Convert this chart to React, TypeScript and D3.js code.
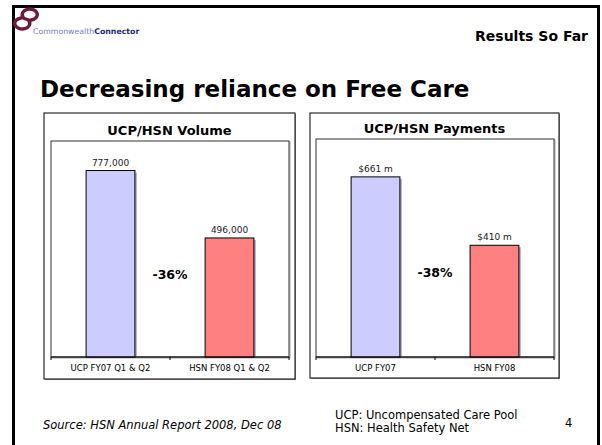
import React from "react";
import * as d3 from "d3";

const volumeCategories = ["UCP FY07 Q1 & Q2", "HSN FY08 Q1 & Q2"];
const volumeValues = [777000, 496000];
const volumeLabels = ["777,000", "496,000"];
const volumeChange = "-36%";

const paymentCategories = ["UCP FY07", "HSN FY08"];
const paymentValues = [661, 410];
const paymentLabels = ["$661 m", "$410 m"];
const paymentChange = "-38%";

const barColors = ["#ccccff", "#ff8080"];
const FONT = "DejaVu Sans, Verdana, sans-serif";

type PanelProps = {
  x0: number; y0: number; x1: number; y1: number;
  px0: number; py0: number; px1: number; py1: number;
  title: string; cats: string[]; vals: number[]; labels: string[];
  yMax: number; change: string; changeY: number; titleY: number;
};

function Panel(p: PanelProps) {
  const x = d3.scaleBand<string>().domain(p.cats).range([p.px0, p.px1]).paddingInner(0.59).paddingOuter(0.295);
  const y = d3.scaleLinear().domain([0, p.yMax]).range([p.py1, p.py0]);
  const step = x.step();
  const ticks = [p.px0, p.px0 + step, p.px1];
  return (
    <g>
      <rect x={p.x0 + 1} y={p.y0 + 1} width={p.x1 - p.x0} height={p.y1 - p.y0} fill="#999" />
      <rect x={p.x0} y={p.y0} width={p.x1 - p.x0} height={p.y1 - p.y0} fill="#fff" stroke="#000" strokeWidth={1} />
      <text x={(p.x0 + p.x1) / 2} y={p.titleY} textAnchor="middle" fontFamily={FONT} fontWeight="bold" fontSize={13}>{p.title}</text>
      <rect x={p.px0 + 1} y={p.py0 + 1} width={p.px1 - p.px0} height={p.py1 - p.py0} fill="none" stroke="#aaa" strokeWidth={1} />
      <rect x={p.px0} y={p.py0} width={p.px1 - p.px0} height={p.py1 - p.py0} fill="#fff" stroke="#333" strokeWidth={1} />
      {p.cats.map((c, i) => (
        <g key={c}>
          <rect x={x(c)! + 2} y={y(p.vals[i]) + 2} width={x.bandwidth()} height={p.py1 - y(p.vals[i]) - 2} fill="#7f7f9f" opacity={0.6} />
          <rect x={x(c)!} y={y(p.vals[i])} width={x.bandwidth()} height={p.py1 - y(p.vals[i])} fill={barColors[i]} stroke="#000" strokeWidth={1} />
          <text x={x(c)! + x.bandwidth() / 2} y={y(p.vals[i]) - 5} textAnchor="middle" fontFamily={FONT} fontSize={9} fill="#222">{p.labels[i]}</text>
          <text x={x(c)! + x.bandwidth() / 2} y={p.py1 + 14} textAnchor="middle" fontFamily={FONT} fontSize={8.5} fill="#000">{c}</text>
        </g>
      ))}
      <line x1={p.px0} x2={p.px1} y1={p.py1} y2={p.py1} stroke="#000" strokeWidth={1} />
      {ticks.map((t, i) => (
        <line key={i} x1={t} x2={t} y1={p.py1} y2={p.py1 + 3} stroke="#000" strokeWidth={1} />
      ))}
      <text x={p.px0 + step} y={p.changeY} textAnchor="middle" fontFamily={FONT} fontWeight="bold" fontSize={12.5}>{p.change}</text>
    </g>
  );
}

export default function App() {
  return (
    <svg width={602} height={445} style={{ position: "absolute", left: 0, top: 0, background: "#fff" }}>
      <rect x={0} y={0} width={602} height={445} fill="#fff" />
      {/* frame */}
      <rect x={12} y={5} width={588} height={3} fill="#000" />
      <rect x={12} y={5} width={3} height={440} fill="#000" />
      <rect x={597} y={5} width={3} height={440} fill="#000" />
      {/* logo */}
      <g fill="none" stroke="#6e1a3a" strokeWidth={3.4} strokeLinecap="round">
        <path d="M 23 17 A 7.5 5.5 0 1 1 31 20" />
        <path d="M 29 21 A 7.5 5.5 0 1 1 21 18" />
        <path d="M 23 18 L 30 20.5" />
      </g>
      <text x={33} y={34} fontFamily={FONT} fontSize={7.8} fill="#7080c0">Commonwealth<tspan fontWeight="bold" fill="#1b2a80">Connector</tspan></text>
      <text x={588} y={41} textAnchor="end" fontFamily={FONT} fontWeight="bold" fontSize={14}>Results So Far</text>
      <text x={40} y={97} fontFamily={FONT} fontWeight="bold" fontSize={23}>Decreasing reliance on Free Care</text>
      <Panel x0={44} y0={113} x1={295} y1={379} px0={51} py0={141} px1={289} py1={357}
        title="UCP/HSN Volume" cats={volumeCategories} vals={volumeValues} labels={volumeLabels}
        yMax={900000} change={volumeChange} changeY={279} titleY={135} />
      <Panel x0={310} y0={113} x1={559} y1={378} px0={316} py0={139} px1={554} py1={357}
        title="UCP/HSN Payments" cats={paymentCategories} vals={paymentValues} labels={paymentLabels}
        yMax={800} change={paymentChange} changeY={277} titleY={133} />
      <text x={43} y={429} fontFamily={FONT} fontStyle="italic" fontSize={11.5}>Source: HSN Annual Report 2008, Dec 08</text>
      <text x={335} y={419} fontFamily={FONT} fontSize={11.5}>UCP: Uncompensated Care Pool</text>
      <text x={335} y={432} fontFamily={FONT} fontSize={11.5}>HSN: Health Safety Net</text>
      <text x={565} y={427} fontFamily={FONT} fontSize={11.5}>4</text>
    </svg>
  );
}
